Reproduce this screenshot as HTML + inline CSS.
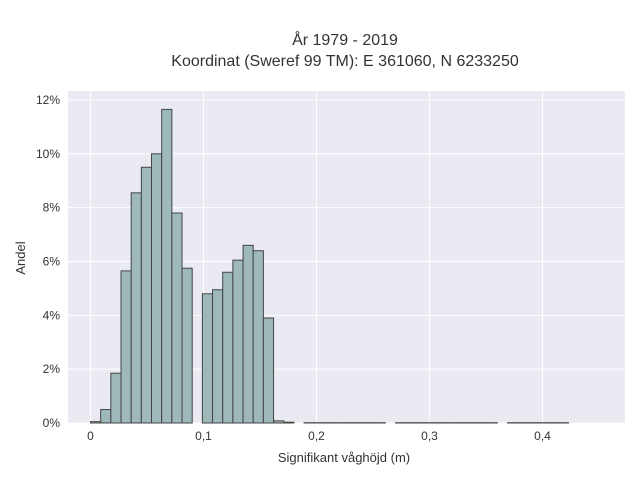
<!DOCTYPE html>
<html><head><meta charset="utf-8"><style>
body{margin:0;background:#fff;font-family:"Liberation Sans",sans-serif}
</style></head><body>
<svg width="640" height="480" xmlns="http://www.w3.org/2000/svg" font-family="Liberation Sans, sans-serif">
<text x="345" y="45" text-anchor="middle" font-size="16" fill="#333">År 1979 - 2019</text>
<text x="345" y="66" text-anchor="middle" font-size="16" fill="#333">Koordinat (Sweref 99 TM): E 361060, N 6233250</text>
<rect x="68" y="91" width="557" height="332" fill="#eaeaf2"/>
<g id="grid"></g><g id="bars"></g><g id="ticks"></g>
<text x="344" y="462" text-anchor="middle" font-size="13" fill="#333">Signifikant våghöjd (m)</text>
<text transform="translate(25,258) rotate(-90)" text-anchor="middle" font-size="13" fill="#333">Andel</text>
</svg>
<script>
const binWidth = 0.009;
const values = [0.05,0.5,1.85,5.65,8.55,9.5,10,11.65,7.8,5.75,null,4.8,4.95,5.6,6.05,6.6,6.4,3.9,0.08,0.03,null,
0.01,0.01,0.01,0.01,0.01,0.01,0.01,0.01,null,0.01,0.01,0.01,0.01,0.01,0.01,0.01,0.01,0.01,0.01,null,
0.01,0.01,0.01,0.01,0.01,0.01];
const xTicks = [0,0.1,0.2,0.3,0.4];
const xTickLabels = ["0","0,1","0,2","0,3","0,4"];
const yTicks = [0,2,4,6,8,10,12];
const yTickLabels = ["0%","2%","4%","6%","8%","10%","12%"];
const NS="http://www.w3.org/2000/svg";
const X = v => 90.5 + v*1130;
const Y = v => 423 - v*26.92;
const grid=document.getElementById('grid'), bars=document.getElementById('bars'), ticks=document.getElementById('ticks');
function mk(tag,attrs,parent){const e=document.createElementNS(NS,tag);for(const k in attrs)e.setAttribute(k,attrs[k]);parent.appendChild(e);return e;}
xTicks.forEach((t,i)=>{
  const l=mk('line',{x1:X(t),x2:X(t),y1:91,y2:423,stroke:'#fff','stroke-width':1},grid);
  
  
  const tx=mk('text',{x:X(t),y:440,'text-anchor':'middle','font-size':12,fill:'#333'},ticks);
  tx.textContent=xTickLabels[i];
  
  
});
yTicks.forEach((t,i)=>{
  const l=mk('line',{x1:68,x2:625,y1:Y(t),y2:Y(t),stroke:'#fff','stroke-width':1},grid);
  
  
  const tx=mk('text',{x:60,y:Y(t)+4,'text-anchor':'end','font-size':12,fill:'#333'},ticks);
  tx.textContent=yTickLabels[i];
  
  
});
values.forEach((v,i)=>{
  if(v===null)return;
  const x0=X(i*binWidth), x1=X((i+1)*binWidth);
  const r=mk('rect',{x:x0,y:Y(v),width:x1-x0,height:Y(0)-Y(v),fill:'#9db9b9',stroke:'#444','stroke-width':1},bars);
  
  
});
</script>
</body></html>
